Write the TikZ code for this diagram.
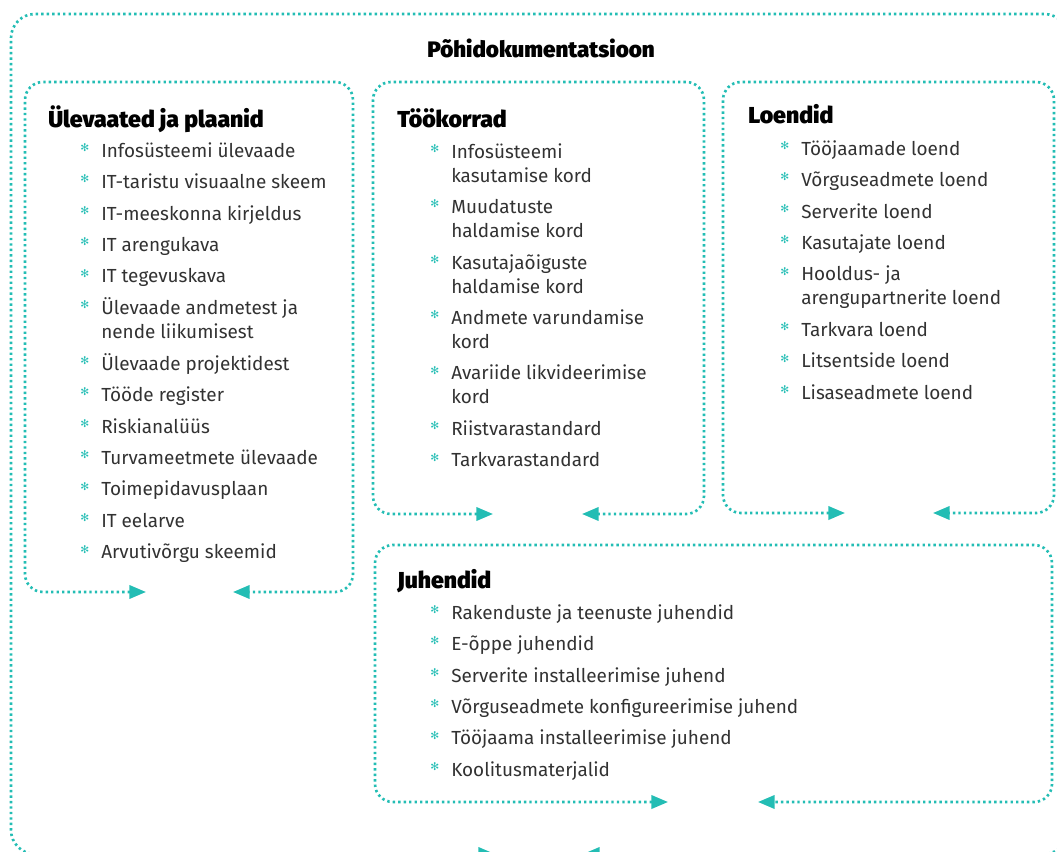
\documentclass[tikz,border=0pt]{standalone}
\usepackage{fontspec}
\setmainfont{Fira Sans}
\newfontfamily\headfont{Fira Sans Black}
\newfontfamily\symfont{DejaVu Sans}
\usetikzlibrary{arrows.meta}
\definecolor{frame}{RGB}{35,189,180}
\definecolor{ink}{RGB}{50,50,50}
\newcommand{\bul}{\makebox[15.75pt][l]{\raisebox{0.3em}{\symfont\fontsize{8}{8}\selectfont\color{frame}✻}}}
\tikzset{boxline/.style={draw=frame,line width=2pt,dash pattern=on 1.8pt off 2.3pt,
           {Triangle[length=12.5pt,width=10pt]}-{Triangle[length=12.5pt,width=10pt]}},
         head/.style={inner sep=0pt,anchor=base west,text=black,font=\headfont\fontsize{17.3}{20}\selectfont},
         itemlist/.style={inner sep=0pt,anchor=north west,text=ink,font=\fontsize{14.2}{18}\selectfont}}

\begin{document}
\begin{tikzpicture}[x=0.75pt,y=-0.75pt]
  \useasboundingbox (0,0) rectangle (1057,851);
  \clip (0,0) rectangle (1057,851);
  % outer frame
  \draw[boxline,rounded corners=18pt] (495,854) -| (11,14) -| (1068,854) -- (583,854);
  \node[head,anchor=base,font=\headfont\fontsize{16.8}{19}\selectfont] (mainHead) at (541,57) {Põhidokumentatsioon};
  % overviews and plans
  \draw[boxline,rounded corners=13.5pt] (146,592) -| (25,82) -| (353,592) -- (233,592);
  \node[head] (plansHead) at (48,127) {Ülevaated ja plaanid};
  \node[itemlist] (plansList) at (80,140) {\begin{tabular}{@{}l@{}l@{}}
    \bul & Infosüsteemi ülevaade\\[5.6pt]
    \bul & IT-taristu visuaalne skeem\\[5.6pt]
    \bul & IT-meeskonna kirjeldus\\[5.6pt]
    \bul & IT arengukava\\[5.6pt]
    \bul & IT tegevuskava\\[5.6pt]
    \bul & Ülevaade andmetest ja\\
         & nende liikumisest\\[5.6pt]
    \bul & Ülevaade projektidest\\[5.6pt]
    \bul & Tööde register\\[5.6pt]
    \bul & Riskianalüüs\\[5.6pt]
    \bul & Turvameetmete ülevaade\\[5.6pt]
    \bul & Toimepidavusplaan\\[5.6pt]
    \bul & IT eelarve\\[5.6pt]
    \bul & Arvutivõrgu skeemid
  \end{tabular}};
  % procedures
  \draw[boxline,rounded corners=13.5pt] (493,514) -| (373,82) -| (704,514) -- (582,514);
  \node[head] (procHead) at (397,127) {Töökorrad};
  \node[itemlist] (procList) at (430,141) {\begin{tabular}{@{}l@{}l@{}}
    \bul & Infosüsteemi\\
         & kasutamise kord\\[5.6pt]
    \bul & Muudatuste\\
         & haldamise kord\\[5.6pt]
    \bul & Kasutajaõiguste\\
         & haldamise kord\\[5.6pt]
    \bul & Andmete varundamise\\
         & kord\\[5.6pt]
    \bul & Avariide likvideerimise\\
         & kord\\[5.6pt]
    \bul & Riistvarastandard\\[5.6pt]
    \bul & Tarkvarastandard
  \end{tabular}};
  % registers
  \draw[boxline,rounded corners=13.5pt] (845,513) -| (723,82) -| (1054,513) -- (933,513);
  \node[head] (listHead) at (748,123) {Loendid};
  \node[itemlist] (listList) at (780,138) {\begin{tabular}{@{}l@{}l@{}}
    \bul & Tööjaamade loend\\[5.6pt]
    \bul & Võrguseadmete loend\\[5.6pt]
    \bul & Serverite loend\\[5.6pt]
    \bul & Kasutajate loend\\[5.6pt]
    \bul & Hooldus- ja\\
         & arengupartnerite loend\\[5.6pt]
    \bul & Tarkvara loend\\[5.6pt]
    \bul & Litsentside loend\\[5.6pt]
    \bul & Lisaseadmete loend
  \end{tabular}};
  % guides
  \draw[boxline,rounded corners=13.5pt] (668,802) -| (375,545) -| (1052,802) -- (758,802);
  \node[head] (guideHead) at (397,588) {Juhendid};
  \node[itemlist] (guideList) at (430,602) {\begin{tabular}{@{}l@{}l@{}}
    \bul & Rakenduste ja teenuste juhendid\\[5.6pt]
    \bul & E-õppe juhendid\\[5.6pt]
    \bul & Serverite installeerimise juhend\\[5.6pt]
    \bul & Võrguseadmete konfigureerimise juhend\\[5.6pt]
    \bul & Tööjaama installeerimise juhend\\[5.6pt]
    \bul & Koolitusmaterjalid
  \end{tabular}};
\end{tikzpicture}
\end{document}
